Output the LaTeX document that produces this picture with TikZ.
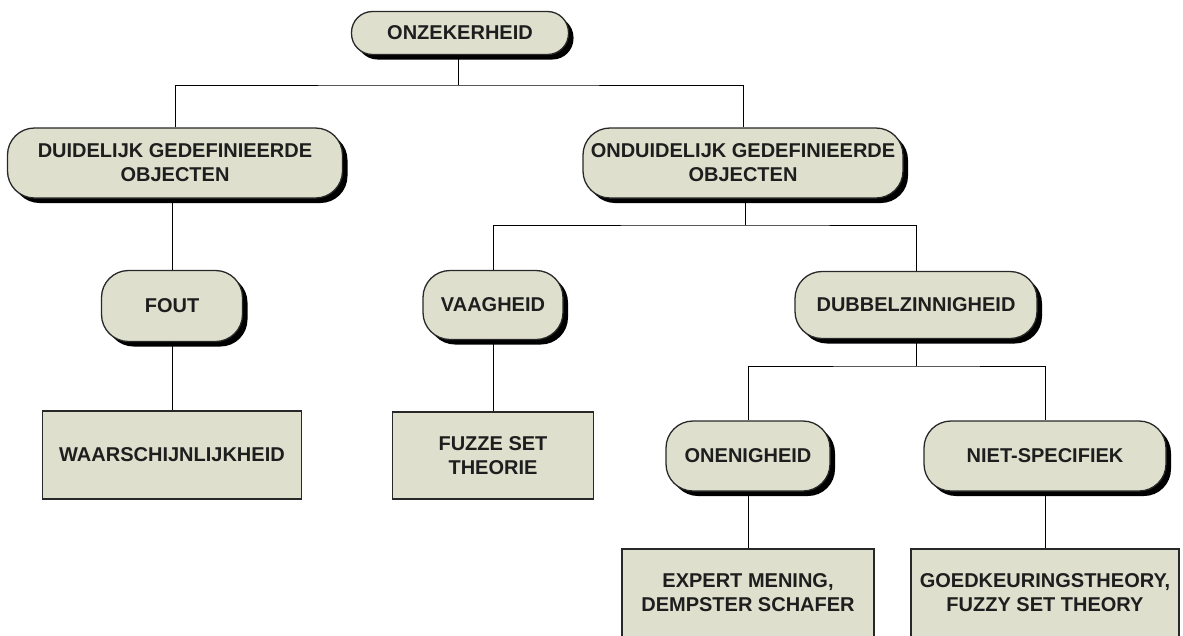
\documentclass[tikz,border=0pt]{standalone}
\usepackage{fontspec}
\setmainfont{Liberation Sans}
\usetikzlibrary{shadows}
\definecolor{boxfill}{RGB}{222,224,205}
\definecolor{boxline}{RGB}{40,40,40}
\definecolor{txt}{RGB}{30,30,30}
\begin{document}
\begin{tikzpicture}[x=1pt,y=-1pt,
  every node/.style={font=\fontsize{20}{24}\selectfont\bfseries, text=txt, align=center, inner sep=0pt},
  pill/.style={draw=boxline, line width=1.3pt, fill=boxfill, rounded corners=27pt,
    drop shadow={shadow xshift=5pt, shadow yshift=-5pt, fill=black, opacity=1}},
  plainbox/.style={draw=boxline, line width=1.3pt, fill=boxfill},
  link/.style={draw=black, line width=1pt}]
\useasboundingbox (0,0) rectangle (1183,635);
\clip (0,0) rectangle (1183,635);

% level 0
\node[pill, rounded corners=21pt, minimum width=217pt, minimum height=43pt] (top) at (460,33) {ONZEKERHEID};

% level 1
\node[pill, minimum width=335pt, minimum height=70pt] (duid) at (175,163) {DUIDELIJK GEDEFINIEERDE\\OBJECTEN};
\node[pill, minimum width=320pt, minimum height=70pt] (onduid) at (743,163) {ONDUIDELIJK GEDEFINIEERDE\\OBJECTEN};

% level 2
\node[pill, minimum width=141pt, minimum height=71pt] (fout) at (172,306) {FOUT};
\node[pill, minimum width=140pt, minimum height=69pt] (vaag) at (493,305) {VAAGHEID};
\node[pill, minimum width=242pt, minimum height=67pt] (dubbel) at (916,305) {DUBBELZINNIGHEID};

% level 3
\node[plainbox, minimum width=259pt, minimum height=88pt] (waar) at (172,455) {WAARSCHIJNLIJKHEID};
\node[plainbox, minimum width=201pt, minimum height=87pt] (fuzze) at (493,455.5) {FUZZE SET\\THEORIE};
\node[pill, minimum width=164pt, minimum height=70pt] (onen) at (748,456) {ONENIGHEID};
\node[pill, minimum width=242pt, minimum height=70pt] (niet) at (1045,456) {NIET-SPECIFIEK};

% level 4
\node[plainbox, minimum width=252pt, minimum height=88pt] (expert) at (748,593) {EXPERT MENING,\\DEMPSTER SCHAFER};
\node[plainbox, minimum width=268pt, minimum height=88pt] (goed) at (1045,593) {GOEDKEURINGSTHEORY,\\FUZZY SET THEORY};

% junction points of the branches
\coordinate (j1) at (458,85);
\coordinate (j2) at (745,225);
\coordinate (j3) at (916,366);

% connectors
\draw[link] (top.south -| j1) -- (j1);
\draw[link] (duid.north) |- (j1) -| (onduid.north);

\draw[link] (duid.south -| fout.north) -- (fout.north);
\draw[link] (fout.south) -- (waar.north);

\draw[link] (onduid.south -| j2) -- (j2);
\draw[link] (vaag.north) |- (j2) -| (dubbel.north);
\draw[link] (vaag.south) -- (fuzze.north);

\draw[link] (dubbel.south) -- (j3);
\draw[link] (onen.north) |- (j3) -| (niet.north);
\draw[link] (onen.south) -- (expert.north);
\draw[link] (niet.south) -- (goed.north);
\end{tikzpicture}
\end{document}
